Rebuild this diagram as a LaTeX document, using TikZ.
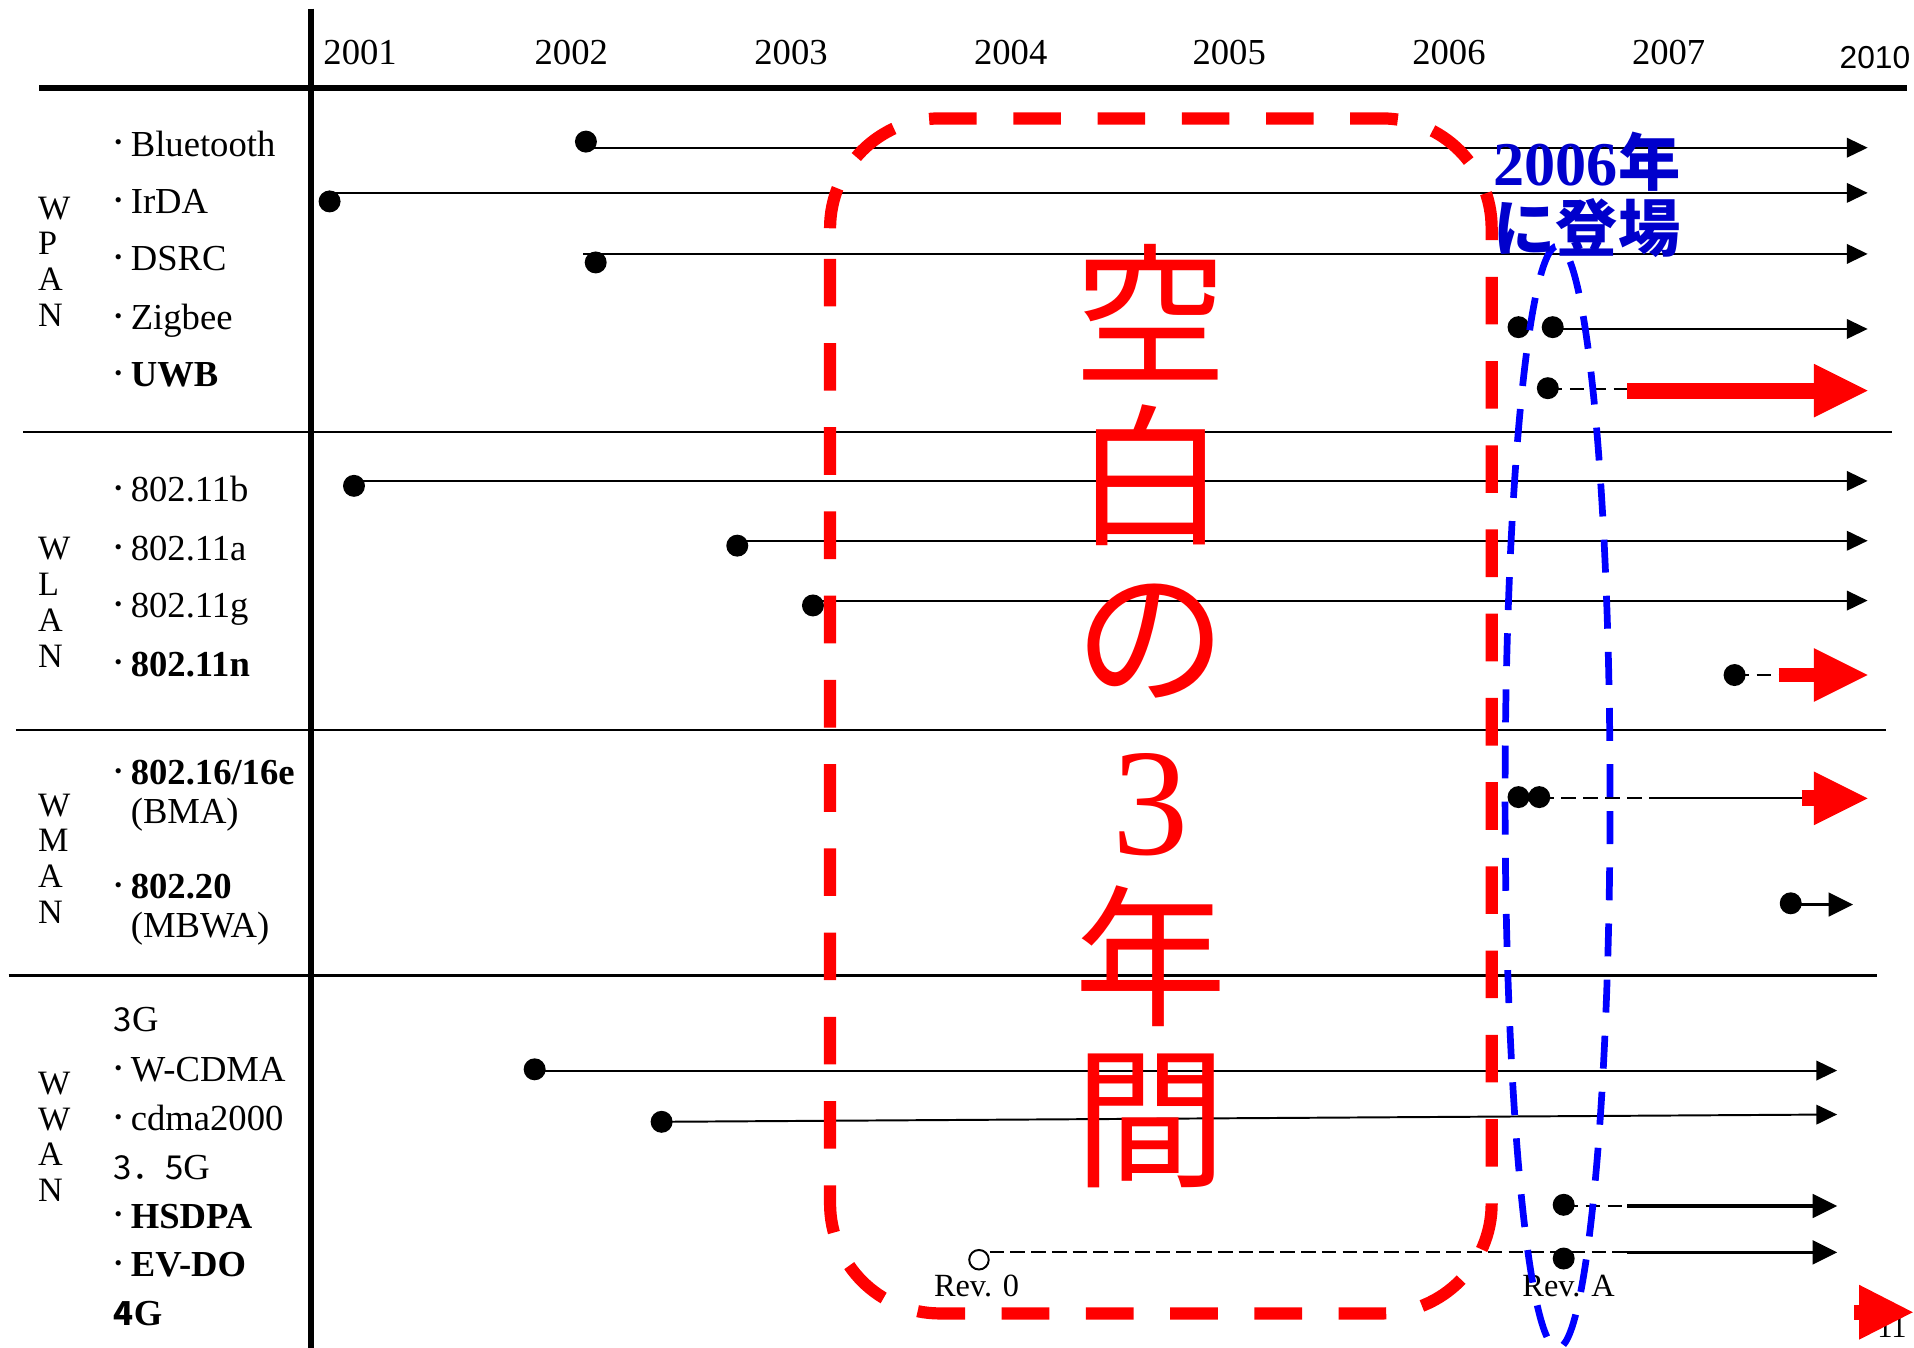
\documentclass[tikz,border=0pt]{standalone}
\usepackage{fontspec}
\setmainfont{Liberation Serif}
\newfontfamily\jp{Noto Sans CJK JP}
\newfontfamily\arialf{Liberation Sans}
\usetikzlibrary{arrows.meta,shapes.geometric}
\definecolor{pured}{RGB}{255,0,0}
\definecolor{pblue}{RGB}{0,0,255}
\definecolor{tblue}{RGB}{0,0,204}
\newcommand\bul{\makebox[20pt][c]{\raisebox{3.5pt}{\jp\fontsize{20}{20}\selectfont ・}}}
\newcommand\jpn[1]{{\jp\fontsize{27}{30}\selectfont #1}}
\begin{document}
\begin{tikzpicture}[x=1pt,y=-1pt,
  axis/.style={line width=5pt},
  sepl/.style={line width=2pt},
  tl/.style={line width=1.6pt},
  tla/.style={line width=1.6pt,-{Triangle[length=17pt,width=16pt]}},
  dsh/.style={line width=1.6pt,dash pattern=on 12pt off 6pt},
  thk/.style={line width=3pt,-{Triangle[length=20pt,width=20pt,line width=0pt]}},
  redarr/.style={draw=pured,line width=13pt,-{Triangle[length=44pt,width=44pt,line width=0pt]}},
  dot/.style={circle,fill=black,inner sep=0pt,minimum size=18pt},
  odot/.style={circle,draw=black,fill=white,line width=1.6pt,inner sep=0pt,minimum size=16pt},
  yr/.style={anchor=base,inner sep=0pt,font=\fontsize{30}{36}\selectfont},
  lab/.style={anchor=base west,inner sep=0pt,font=\fontsize{30}{36}\selectfont},
  grp/.style={anchor=north west,inner sep=0pt,align=left,font=\fontsize{28}{29.3}\selectfont},
  rev/.style={anchor=base,inner sep=0pt,font=\fontsize{26.5}{30}\selectfont},
]
\fill[white] (0,0) rectangle (1568,1104);
\useasboundingbox (0,0) rectangle (1568,1104);

% axes
\coordinate (hl) at (32,72); \coordinate (hr) at (1562,72);
\draw[axis] (hl) -- (hr);
\coordinate (vt) at (255,7); \coordinate (vb) at (255,1104);
\draw[axis] (vt) -- (vb);
% separators
\coordinate (s1a) at (19,354); \coordinate (s1b) at (1550,354);
\draw[sepl] (s1a) -- (s1b);
\coordinate (s2a) at (13,598); \coordinate (s2b) at (1545,598);
\draw[sepl] (s2a) -- (s2b);
\coordinate (s3a) at (7,799); \coordinate (s3b) at (1538,799);
\draw[sepl] (s3a) -- (s3b);

% years
\node[yr] (y1) at (295,53) {2001};
\node[yr] (y2) at (468,53) {2002};
\node[yr] (y3) at (648,53) {2003};
\node[yr] (y4) at (828,53) {2004};
\node[yr] (y5) at (1007,53) {2005};
\node[yr] (y6) at (1187,53) {2006};
\node[yr] (y7) at (1367,53) {2007};
\node[yr,font=\arialf\fontsize{26}{30}\selectfont] (y10) at (1536,56.5) {2010};

% groups
\node[grp] (gpan) at (31,161) {W\\P\\A\\N};
\node[grp] (glan) at (31,440) {W\\L\\A\\N};
\node[grp] (gman) at (31,650) {W\\M\\A\\N};
\node[grp] (gwan) at (31,878) {W\\W\\A\\N};

% item labels
\node[lab] (lbt) at (87,128) {\bul Bluetooth};
\node[lab] (lir) at (87,175) {\bul IrDA};
\node[lab] (lds) at (87,222) {\bul DSRC};
\node[lab] (lzb) at (87,270) {\bul Zigbee};
\node[lab] (luw) at (87,317) {\bul\textbf{UWB}};
\node[lab] (lb) at (87,411) {\bul 802.11b};
\node[lab] (la) at (87,459) {\bul 802.11a};
\node[lab] (lg) at (87,506) {\bul 802.11g};
\node[lab] (ln) at (87,554) {\bul\textbf{802.11n}};
\node[lab] (l16) at (87,643) {\bul\textbf{802.16/16e}};
\node[lab] (lbma) at (107,675) {(BMA)};
\node[lab] (l20) at (87,736) {\bul\textbf{802.20}};
\node[lab] (lmbwa) at (107,768) {(MBWA)};
\node[lab] (l3g) at (93,845) {\jpn{3}G};
\node[lab] (lwc) at (87,886) {\bul W-CDMA};
\node[lab] (lcd) at (87,926) {\bul cdma2000};
\node[lab] (l35) at (93,966) {\jpn{3．5}G};
\node[lab] (lhs) at (87,1006) {\bul\textbf{HSDPA}};
\node[lab] (lev) at (87,1046) {\bul\textbf{EV-DO}};
\node[lab] (l4g) at (93,1086) {\bfseries\jpn{4}G};

% WPAN timelines
\node[dot] (bt) at (480,116) {};
\coordinate (bte) at (1530,121);
\draw[tla] (bt.center |- bte) -- (bte);
\node[dot] (ir) at (270,165) {};
\coordinate (ire) at (1530,158);
\draw[tla] (ir.center |- ire) -- (ire);
\node[dot] (ds) at (488,215) {};
\coordinate (dss) at (478,208); \coordinate (dse) at (1530,208);
\draw[tla] (dss) -- (dse);
\node[dot] (zb1) at (1244,268) {};
\node[dot] (zb2) at (1272,268) {};
\coordinate (zbe) at (1530,269.5);
\draw[tla] (zb2.center |- zbe) -- (zbe);
\node[dot] (uw) at (1268,318) {};
\coordinate (uwm) at (1345,319);
\draw[dsh] (uw.center |- uwm) -- (uwm);
\coordinate (uws) at (1333,320); \coordinate (uwe) at (1530,320);
\draw[redarr] (uws) -- (uwe);

% WLAN timelines
\node[dot] (b) at (290,398) {};
\coordinate (be) at (1530,394);
\draw[tla] (b.center |- be) -- (be);
\node[dot] (a) at (604,447) {};
\coordinate (ae) at (1530,443);
\draw[tla] (a.center |- ae) -- (ae);
\node[dot] (g) at (666,496) {};
\coordinate (ge) at (1530,492);
\draw[tla] (g.center |- ge) -- (ge);
\node[dot] (n) at (1421,553) {};
\coordinate (nm) at (1462,553);
\draw[dsh] (n.center) -- (nm);
\coordinate (ns) at (1457,553); \coordinate (ne) at (1530,553);
\draw[redarr,line width=12pt] (ns) -- (ne);

% WMAN timelines
\node[dot] (w1) at (1244,653) {};
\node[dot] (w2) at (1261,653) {};
\coordinate (wm) at (1357,654); \coordinate (wf) at (1482,654);
\draw[dsh] (w2.center |- wm) -- (wm);
\draw[tl] (wm) -- (wf);
\coordinate (ws) at (1476,654); \coordinate (we) at (1530,654);
\draw[redarr] (ws) -- (we);
\node[dot] (m20) at (1467,740) {};
\coordinate (m20e) at (1518,741);
\draw[line width=2pt,-{Triangle[length=20pt,width=20pt,line width=0pt]}] (m20.center |- m20e) -- (m20e);

% WWAN timelines
\node[dot] (wc) at (438,876) {};
\coordinate (wce) at (1505,877);
\draw[tla] (wc.center |- wce) -- (wce);
\node[dot] (cd) at (542,919) {};
\coordinate (cde) at (1505,913);
\draw[tla] (cd.center) -- (cde);
\node[dot] (hs) at (1281,987) {};
\coordinate (hsm) at (1333,988); \coordinate (hse) at (1505,988);
\draw[dsh] (hs.center |- hsm) -- (hsm);
\draw[thk] (hsm) -- (hse);
\node[dot] (ra) at (1281,1031) {};
\coordinate (evm) at (1333,1026); \coordinate (eve) at (1505,1026);
\node[odot] (r0) at (802,1032) {};
\draw[dsh,dash pattern=on 12pt off 5pt] (r0.east |- evm) -- (evm);
\draw[thk] (evm) -- (eve);
\node[rev] (rev0) at (800,1062) {Rev. 0};
\node[rev] (revA) at (1285,1062) {Rev. A};

% red dashed box and text
\draw[pured, line width=10pt, rounded corners=90pt, dash pattern=on 39pt off 30pt, dash phase=44pt] (680,97) rectangle (1222,1076);
\node[anchor=north, inner sep=0pt, text=pured, align=center, font=\jp\fontsize{125}{131.5}\selectfont] (gap) at (943,200) {空\\白\\の\\{\rmfamily 3}\\年\\間};

% blue ellipse and text
\node[ellipse, draw=pblue, line width=5.5pt, dash pattern=on 27pt off 19pt, minimum width=86pt, minimum height=903pt, inner sep=0pt] (ell) at (1276,653) {};
\node[anchor=north, inner sep=0pt, text=tblue, align=center, font=\bfseries\fontsize{51}{54}\selectfont] (t2006) at (1300,108) {2006{\jp 年}\\{\jp に登場}};

% page number and 4G arrow
\node[anchor=base, inner sep=0pt, font=\fontsize{25}{30}\selectfont] (pg) at (1550,1096) {11};
\coordinate (g4s) at (1519,1075); \coordinate (g4e) at (1567,1075);
\draw[redarr,line width=12pt,-{Triangle[length=44pt,width=45pt,line width=0pt]}] (g4s) -- (g4e);
\end{tikzpicture}
\end{document}
